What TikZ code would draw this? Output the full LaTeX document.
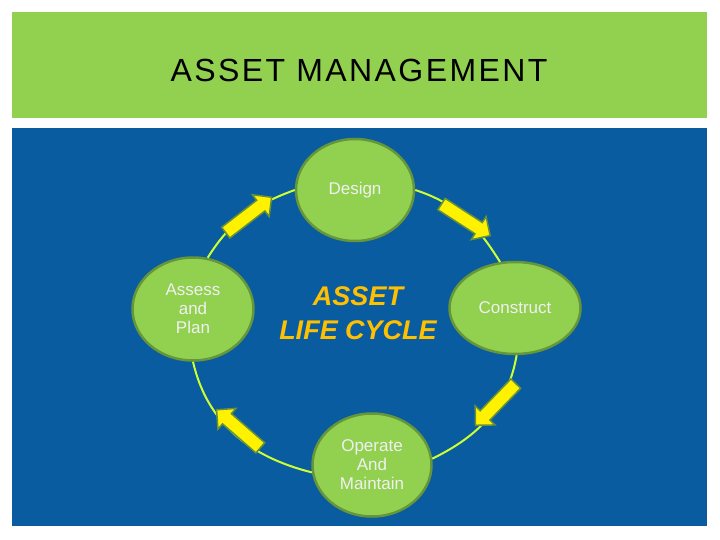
\documentclass[tikz,border=0pt]{standalone}
\usepackage{fontspec}
\setmainfont{Liberation Sans}
\usetikzlibrary{shapes.geometric,shapes.arrows}

\definecolor{bannergreen}{HTML}{92D050}
\definecolor{panelblue}{HTML}{0A5CA0}
\definecolor{stagegreen}{HTML}{92D050}
\definecolor{stageedge}{HTML}{66963A}
\definecolor{ringline}{HTML}{CCFF33}
\definecolor{cyclegold}{HTML}{FFC000}
\definecolor{arrowedge}{HTML}{64913A}

\tikzset{
  stage/.style={ellipse, fill=stagegreen, draw=stageedge, line width=2.5pt,
    inner sep=0pt, text=white!94!black, align=center,
    font=\fontsize{17}{19}\selectfont},
  ring/.style={ringline, line width=2pt},
  flowarrow/.style={single arrow, fill=yellow, draw=arrowedge, line width=1.5pt,
    minimum height=58pt, single arrow head extend=7pt,
    inner xsep=0pt, inner ysep=6pt},
}

\begin{document}
\begin{tikzpicture}[x=1pt,y=-1pt]
  \useasboundingbox (0,0) rectangle (720,540);

  % Top: title banner
  \fill[bannergreen] (12,12) rectangle (707,118);
  \node (title) at (359,70)
    {\fontsize{32}{32}\selectfont\addfontfeature{LetterSpace=7.5}ASSET MANAGEMENT};

  % Bottom: blue panel
  \fill[panelblue] (12,128) rectangle (707,526);

  % stages of the cycle
  \node[stage, minimum width=118, minimum height=102] (design) at (355,190) {Design};
  \node[stage, minimum width=121, minimum height=103] (assess) at (193,309) {Assess\\and\\Plan};
  \node[stage, minimum width=131, minimum height=92] (construct) at (515,308) {Construct};
  \node[stage, minimum width=119, minimum height=103] (operate) at (372,465) {Operate\\And\\Maintain};

  % ring joining the stages
  \draw[ring] (assess.74) to[out=58,in=200] (design.180);
  \draw[ring] (design.0) to[out=-18,in=122] (construct.108);
  \draw[ring] (construct.-88) to[out=-100,in=26] (operate.6);
  \draw[ring] (operate.187) to[out=166,in=-77] (assess.-90);

  % block arrows along the ring
  \foreach \px/\py/\ang [count=\i] in {246/217/37.6, 463/218/-33, 498/402/-134, 241/431/139}
    \node[flowarrow, rotate=\ang] (arrow\i) at (\px,\py) {};

  % centre caption
  \node[text=cyclegold, align=center,
    font=\fontsize{27}{34}\selectfont\bfseries\itshape] (cycle) at (358,313)
    {ASSET\\LIFE CYCLE};
\end{tikzpicture}
\end{document}
